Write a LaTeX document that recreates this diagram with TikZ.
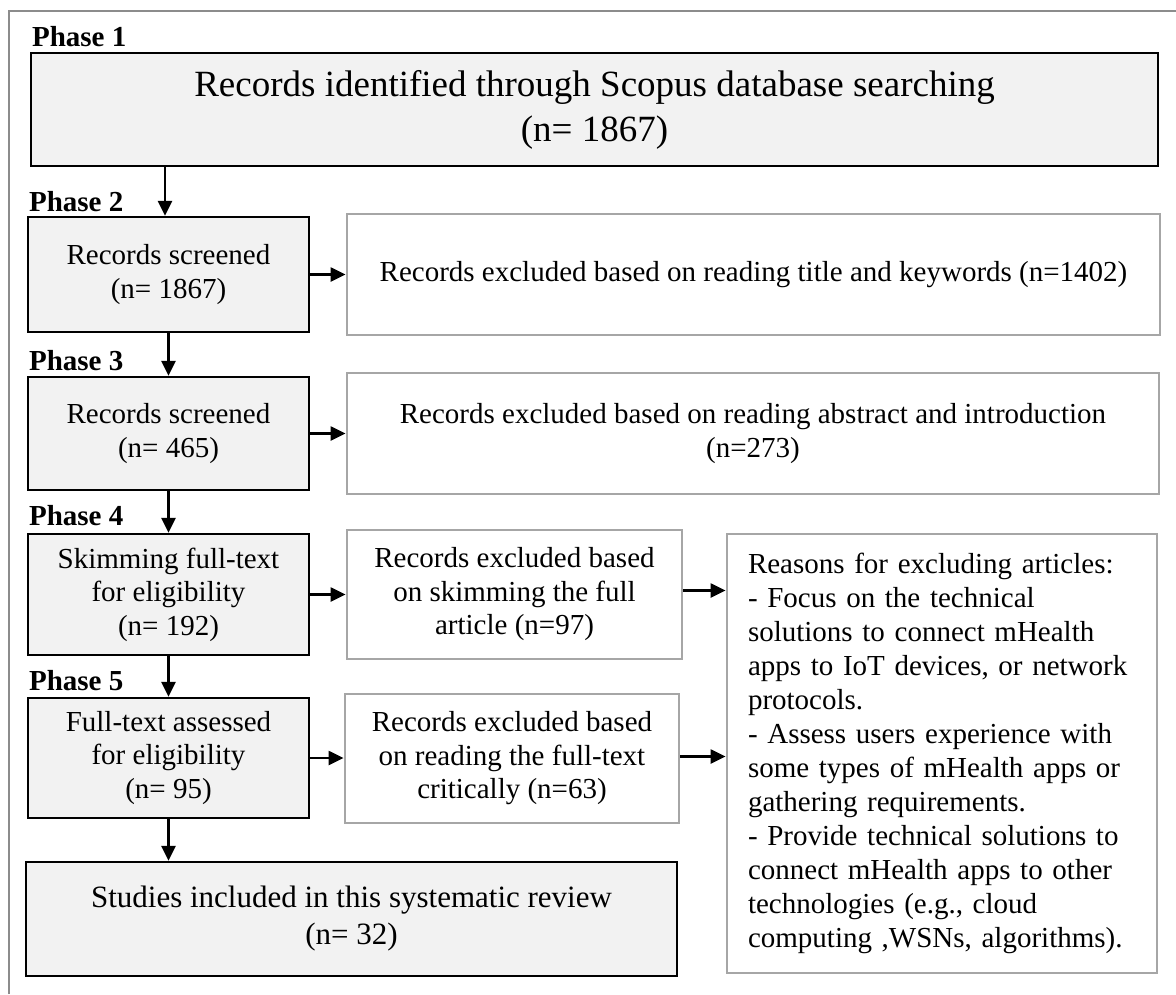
\documentclass[tikz,border=0pt]{standalone}
\usepackage{fontspec}
\setmainfont{Liberation Serif}
\usetikzlibrary{arrows.meta}

\definecolor{boxfill}{HTML}{F2F2F2}
\definecolor{exclline}{HTML}{A6A6A6}
\definecolor{frameline}{HTML}{8C8C8C}

\tikzset{
  phasebox/.style={draw=black, line width=2.3pt, fill=boxfill, inner sep=0pt,
    align=center, font=\fontsize{29}{33.5}\selectfont},
  exclbox/.style={draw=exclline, line width=2.8pt, fill=white, inner sep=0pt,
    align=center, font=\fontsize{29}{33.5}\selectfont},
  phaselabel/.style={anchor=base west, inner sep=0pt,
    font=\fontsize{29}{33}\selectfont\bfseries},
  flowarrow/.style={draw=black, line width=2.3pt,
    -{Triangle[length=15pt,width=14pt]}}
}

\begin{document}
\begin{tikzpicture}[x=1pt, y=-1pt]
\useasboundingbox (0,0) rectangle (1176,994);

% outer frame
\draw[frameline, line width=2.8pt] (9,994) -- (9,11) -- (1176,11);

% main column
\node[phasebox, minimum width=1127pt, minimum height=113pt,
      font=\fontsize{37}{45}\selectfont] (p1) at (594.5,109.5)
  {Records identified through Scopus database searching\\(n= 1867)};
\node[phasebox, minimum width=281pt, minimum height=115pt] (p2) at (168.5,274.5)
  {Records screened\\(n= 1867)};
\node[phasebox, minimum width=281pt, minimum height=113pt] (p3) at (168.5,433.5)
  {Records screened\\(n= 465)};
\node[phasebox, minimum width=281pt, minimum height=121pt] (p4) at (168.5,594.5)
  {Skimming full-text\\for eligibility\\(n= 192)};
\node[phasebox, minimum width=281pt, minimum height=120pt] (p5) at (168.5,758)
  {Full-text assessed\\for eligibility\\(n= 95)};
\node[phasebox, minimum width=651pt, minimum height=114pt,
      font=\fontsize{31}{37}\selectfont] (st) at (351.5,919)
  {Studies included in this systematic review\\(n= 32)};

% phase labels
\node[phaselabel] (l1) at ([xshift=2pt,yshift=5pt]p1.north west) {Phase 1};
\node[phaselabel] (l2) at ([xshift=2pt,yshift=4pt]p2.north west) {Phase 2};
\node[phaselabel] (l3) at ([xshift=2pt,yshift=5pt]p3.north west) {Phase 3};
\node[phaselabel] (l4) at ([xshift=2pt,yshift=7pt]p4.north west) {Phase 4};
\node[phaselabel] (l5) at ([xshift=2pt,yshift=6pt]p5.north west) {Phase 5};

% exclusion boxes
\node[exclbox, minimum width=813pt, minimum height=121pt] (e2) at (753.5,274.5)
  {Records excluded based on reading title and keywords (n=1402)};
\node[exclbox, minimum width=812pt, minimum height=121pt] (e3) at (753,433.5)
  {Records excluded based on reading abstract and introduction\\(n=273)};
\node[exclbox, minimum width=335pt, minimum height=129pt] (e4) at (514.5,594.5)
  {Records excluded based\\on skimming the full\\article (n=97)};
\node[exclbox, minimum width=334pt, minimum height=129pt] (e5) at (512,758.5)
  {Records excluded based\\on reading the full-text\\critically (n=63)};
\node[exclbox, minimum width=430pt, minimum height=439pt, text width=388pt,
      inner xsep=21pt, align=left, font=\fontsize{29}{34}\selectfont] (rs) at (942,753.5)
  {Reasons for excluding articles:\\
   - Focus on the technical\\
   solutions to connect mHealth\\
   apps to IoT devices, or network\\
   protocols.\\
   - Assess users experience with\\
   some types of mHealth apps or\\
   gathering requirements.\\
   - Provide technical solutions to\\
   connect mHealth apps to other\\
   technologies (e.g., cloud\\
   computing ,WSNs, algorithms).};

% vertical flow
\draw[flowarrow] (p1.south -| 165,0) -- (p2.north -| 165,0);
\draw[flowarrow] (p2.south) -- (p3.north);
\draw[flowarrow] (p3.south) -- (p4.north);
\draw[flowarrow] (p4.south) -- (p5.north);
\draw[flowarrow] (p5.south) -- (p5.south |- st.north);

% exclusions
\draw[flowarrow] (p2.east) -- (p2.east -| e2.west);
\draw[flowarrow] (p3.east) -- (p3.east -| e3.west);
\draw[flowarrow] (p4.east) -- (p4.east -| e4.west);
\draw[flowarrow] (p5.east) -- (p5.east -| e5.west);
\draw[flowarrow] ([yshift=4pt]e4.east) -- ([yshift=4pt]e4.east -| rs.west);
\draw[flowarrow] ([yshift=2pt]e5.east) -- ([yshift=2pt]e5.east -| rs.west);
\end{tikzpicture}
\end{document}
